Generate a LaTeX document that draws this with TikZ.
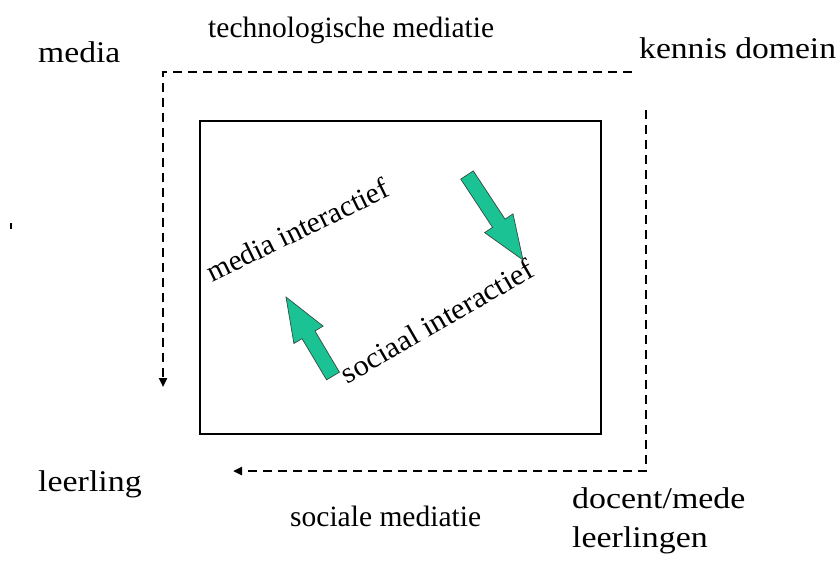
\documentclass[tikz,border=0pt]{standalone}
\usepackage{fontspec}
\setmainfont{Liberation Serif}
\usetikzlibrary{arrows.meta,calc}
\definecolor{arrowgreen}{RGB}{26,194,148}
\definecolor{arrowedge}{RGB}{55,75,65}
\newcommand\blockarr[2]{%
  \coordinate (hb) at ($(#2)!44pt!(#1)$);
  \filldraw[fill=arrowgreen, draw=arrowedge, line width=0.7pt, line join=miter]
    ($(#1)!7.5pt!90:(#2)$) -- ($(hb)!7.5pt!90:(#2)$) -- ($(hb)!17pt!90:(#2)$) -- (#2)
    -- ($(hb)!17pt!-90:(#2)$) -- ($(hb)!7.5pt!-90:(#2)$) -- ($(#1)!7.5pt!-90:(#2)$) -- cycle;
}
\begin{document}
\begin{tikzpicture}[x=1pt,y=-1pt,
  lab/.style={font=\fontsize{30}{32}\selectfont, inner sep=0pt},
  slab/.style={font=\fontsize{29.5}{31}\selectfont, inner sep=0pt},
  dashline/.style={line width=2.4pt, dash pattern=on 9pt off 6pt,
    -{Triangle[length=9pt,width=8pt]}},
  boxstyle/.style={draw, line width=2.8pt, inner sep=0pt}]
\useasboundingbox (0,0) rectangle (840,560);

% labels
\node[lab, anchor=base west] (media) at (38,62) {\scalebox{1.12}[1]{media}};
\node[slab, anchor=base west] (techmed) at (208,37) {technologische mediatie};
\node[lab, anchor=base west] (kennis) at (639,58) {\scalebox{1.12}[1]{kennis domein}};
\node[lab, anchor=base west] (leerling) at (38,491) {\scalebox{1.13}[1]{leerling}};
\node[slab, anchor=base west] (socmed) at (290,526) {sociale mediatie};
\node[lab, anchor=base west] (docent) at (572,508) {\scalebox{1.13}[1]{docent/mede}};
\node[lab, anchor=base west] (leerlingen) at (572,547) {\scalebox{1.13}[1]{leerlingen}};

% central box
\node[boxstyle, minimum width=401pt, minimum height=313pt] (box) at (400.5,277.5) {};

% dashed mediation paths
\coordinate (tr) at (632,72);
\coordinate (tl) at (163,72);
\coordinate (bl) at (163,387);
\draw[dashline] (tr) -- (tl) -- (bl);
\coordinate (rt) at (646,110);
\coordinate (rb) at (646,471);
\coordinate (lb) at (233,471);
\draw[dashline] (rt) -- (rb) -- (lb);

% rotated texts
\node[slab, anchor=base, rotate=26] (mediaint) at (302,239) {media interactief};
\node[slab, anchor=base, rotate=30] (sociaalint) at (442,330) {\scalebox{1.04}[1]{sociaal interactief}};

% block arrows
\coordinate (a1t) at (467,175);
\coordinate (a1p) at (523,260);
\coordinate (a2t) at (333,376);
\coordinate (a2p) at (286,297);
\blockarr{a1t}{a1p}
\blockarr{a2t}{a2p}

% small mark at left
\draw[line width=1.3pt] (11,223) -- (11,229);
\end{tikzpicture}
\end{document}
